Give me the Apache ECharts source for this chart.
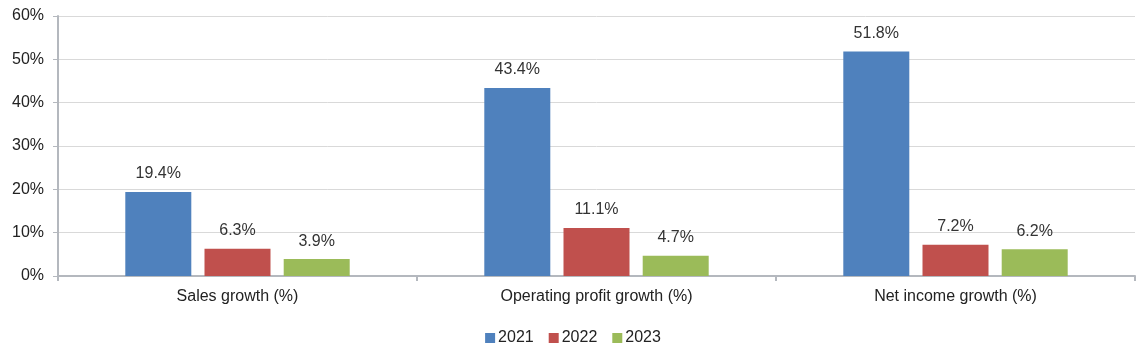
<!DOCTYPE html>
<html>
<head>
<meta charset="utf-8">
<script src="https://cdn.jsdelivr.net/npm/echarts@6/dist/echarts.min.js"></script>
<style>html,body{margin:0;padding:0;background:#fff}#c{width:1146px;height:356px}</style>
</head>
<body>
<div id="c"></div>
<script>
const categories = ['Sales growth (%)', 'Operating profit growth (%)', 'Net income growth (%)'];
const seriesNames = ['2021', '2022', '2023'];
const values2021 = [19.4, 43.4, 51.8];
const values2022 = [6.3, 11.1, 7.2];
const values2023 = [3.9, 4.7, 6.2];
const colors = ['#4F81BD', '#C0504D', '#9BBB59'];

const font = 'Liberation Sans, Arial, sans-serif';
const chart = echarts.init(document.getElementById('c'));
const mk = (name, data, color) => ({
  name, type: 'bar', data, barWidth: 66, barGap: '20%',
  itemStyle: { color },
  label: { show: true, position: 'top', distance: 10, formatter: p => p.value.toFixed(1) + '%',
    color: '#333', fontSize: 16, fontFamily: font }
});
chart.setOption({
  animation: false,
  grid: { left: 58, right: 11, top: 16, bottom: 80, containLabel: false },
  legend: {
    top: 330, left: 'center', padding: 0, itemWidth: 10, itemHeight: 10, itemGap: 15,
    icon: 'rect', textStyle: { color: '#222', fontSize: 16, lineHeight: 16, fontFamily: font, padding: [0,0,0,-2] },
    data: seriesNames
  },
  xAxis: {
    type: 'category', data: categories,
    axisLine: { lineStyle: { color: '#b4b8be', width: 2 } },
    axisTick: { show: true, length: 5, lineStyle: { color: '#b4b8be', width: 2 } },
    axisLabel: { color: '#222', fontSize: 16, fontFamily: font, margin: 13 }
  },
  yAxis: {
    type: 'value', min: 0, max: 60, interval: 10,
    axisLine: { show: true, lineStyle: { color: '#b4b8be', width: 2 } },
    axisTick: { show: true, length: 5, lineStyle: { color: '#b4b8be', width: 1 } },
    axisLabel: { formatter: '{value}%', color: '#222', fontSize: 16, fontFamily: font, margin: 14 },
    splitLine: { lineStyle: { color: '#d9d9d9', width: 1 } }
  },
  series: [mk(seriesNames[0], values2021, colors[0]), mk(seriesNames[1], values2022, colors[1]), mk(seriesNames[2], values2023, colors[2])]
});
</script>
</body>
</html>
